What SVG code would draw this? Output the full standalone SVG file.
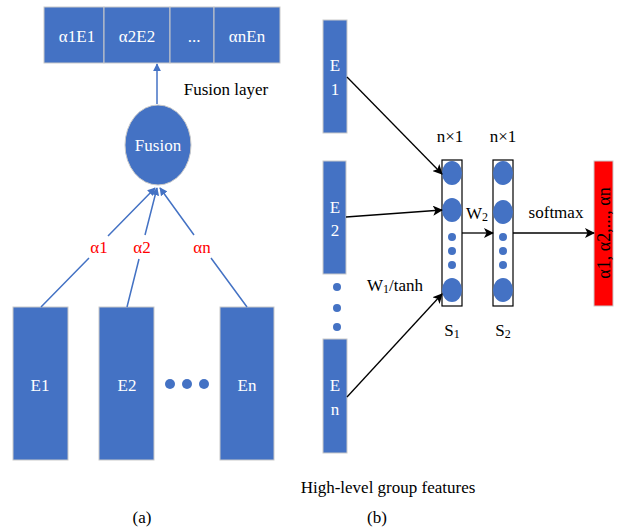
<svg xmlns="http://www.w3.org/2000/svg" width="626" height="532" viewBox="0 0 626 532">
<style>
text{font-family:"Liberation Serif","Times New Roman","DejaVu Serif",serif;font-size:17px;text-anchor:middle;dominant-baseline:central}
.blk{fill:#4472C4;stroke:#c9c9c9;stroke-width:1}
.wt{fill:#ffffff}
.bt{fill:#000000}
.rt{fill:#ff0000}
.bl{stroke:#4472C4;stroke-width:1.5;fill:none}
.kl{stroke:#000;stroke-width:1.3;fill:none}
.dot{fill:#4472C4}
</style>
<defs>
<marker id="ab" viewBox="0 0 10 10" refX="9" refY="5" markerWidth="8" markerHeight="8" markerUnits="userSpaceOnUse" orient="auto"><path d="M0,0 L10,5 L0,10 z" fill="#4472C4"/></marker>
<marker id="ak" viewBox="0 0 10 10" refX="9" refY="5" markerWidth="10" markerHeight="10" markerUnits="userSpaceOnUse" orient="auto"><path d="M0,0 L10,5 L0,10 L2.5,5 z" fill="#000"/></marker>
</defs>
<rect width="626" height="532" fill="#fff"/>

<g id="fusion-layer">
<rect class="blk" x="44" y="7" width="60" height="56"/>
<rect class="blk" x="104" y="7" width="66" height="56"/>
<rect class="blk" x="170" y="7" width="44" height="56"/>
<rect class="blk" x="214" y="7" width="66" height="56"/>
<text class="wt" x="77" y="36">α1E1</text>
<text class="wt" x="137" y="36">α2E2</text>
<text class="wt" x="194" y="36">...</text>
<text class="wt" x="247" y="36">αnEn</text>
</g>
<text class="bt" x="226" y="89">Fusion layer</text>
<g id="fusion">
<ellipse cx="158" cy="145" rx="33" ry="40" fill="#4472C4" stroke="#c9c9c9" stroke-width="1"/>
<text class="wt" x="158" y="145">Fusion</text>
</g>
<g id="a-E1"><rect class="blk" x="13" y="307" width="55" height="153"/><text class="wt" x="40" y="385">E1</text></g>
<g id="a-E2"><rect class="blk" x="99" y="307" width="55" height="153"/><text class="wt" x="127" y="385">E2</text></g>
<g id="a-En"><rect class="blk" x="220" y="307" width="54" height="153"/><text class="wt" x="247" y="385">En</text></g>
<circle class="dot" cx="170" cy="384" r="5"/>
<circle class="dot" cx="187" cy="384" r="5"/>
<circle class="dot" cx="204" cy="384" r="5"/>
<text class="bt" x="142" y="517">(a)</text>

<g id="connectors-a">
<line class="bl" x1="157" y1="104" x2="157" y2="64" marker-end="url(#ab)"/>
<path class="bl" d="M41,307 L89,258 M108,236 L155,188" marker-end="url(#ab)"/>
<path class="bl" d="M127,307 L139,259 M145,235 L157,188" marker-end="url(#ab)"/>
<path class="bl" d="M247,307 L211,258 M194,235 L160,188" marker-end="url(#ab)"/>
</g>
<text class="rt" x="99" y="247">α1</text>
<text class="rt" x="142" y="247">α2</text>
<text class="rt" x="202" y="247">αn</text>

<g id="b-E1"><rect class="blk" x="323" y="20" width="24" height="113"/><text class="wt" x="335" y="65">E</text><text class="wt" x="335" y="89">1</text></g>
<g id="b-E2"><rect class="blk" x="323" y="161" width="23" height="113"/><text class="wt" x="335" y="207">E</text><text class="wt" x="335" y="230">2</text></g>
<circle class="dot" cx="337" cy="287" r="4"/>
<circle class="dot" cx="337" cy="308" r="4"/>
<circle class="dot" cx="337" cy="327" r="4"/>
<g id="b-En"><rect class="blk" x="323" y="339" width="24" height="114"/><text class="wt" x="335" y="385">E</text><text class="wt" x="335" y="409">n</text></g>

<g id="S1">
<rect x="442" y="160" width="20" height="146" fill="#fff" stroke="#000" stroke-width="1.2"/>
<ellipse class="dot" cx="452" cy="173" rx="10" ry="12"/>
<ellipse class="dot" cx="452" cy="210" rx="10" ry="12"/>
<circle class="dot" cx="452" cy="237" r="4"/>
<circle class="dot" cx="452" cy="251" r="4"/>
<circle class="dot" cx="452" cy="265" r="4"/>
<ellipse class="dot" cx="452" cy="290" rx="10" ry="12"/>
</g>
<g id="S2">
<rect x="493" y="160" width="20" height="146" fill="#fff" stroke="#000" stroke-width="1.2"/>
<ellipse class="dot" cx="503" cy="173" rx="10" ry="12"/>
<ellipse class="dot" cx="503" cy="212" rx="10" ry="12"/>
<circle class="dot" cx="503" cy="237" r="4"/>
<circle class="dot" cx="503" cy="251" r="4"/>
<circle class="dot" cx="503" cy="265" r="4"/>
<ellipse class="dot" cx="503" cy="290" rx="10" ry="12"/>
</g>
<g id="output">
<rect x="594" y="161" width="19" height="145" fill="#ff0000" stroke="#c9c9c9" stroke-width="1"/>
<text class="bt" transform="translate(604,233) rotate(-90)" style="font-size:18px">α1, α2,..., αn</text>
</g>

<g id="connectors-b">
<line class="kl" x1="347" y1="77" x2="442" y2="174" marker-end="url(#ak)"/>
<line class="kl" x1="346" y1="217" x2="442" y2="210" marker-end="url(#ak)"/>
<line class="kl" x1="347" y1="397" x2="442" y2="294" marker-end="url(#ak)"/>
<line class="kl" x1="462" y1="233" x2="493" y2="233" marker-end="url(#ak)"/>
<line class="kl" x1="513" y1="233" x2="594" y2="233" marker-end="url(#ak)"/>
</g>

<text class="bt" x="450" y="136">n×1</text>
<text class="bt" x="503" y="136">n×1</text>
<text class="bt" x="477" y="213">W<tspan style="font-size:12px" dy="4">2</tspan></text>
<text class="bt" x="556" y="212">softmax</text>
<text class="bt" x="395" y="285">W<tspan style="font-size:12px" dy="4">1</tspan><tspan dy="-4">/tanh</tspan></text>
<text class="bt" x="452" y="330">S<tspan style="font-size:12px" dy="4">1</tspan></text>
<text class="bt" x="503" y="330">S<tspan style="font-size:12px" dy="4">2</tspan></text>
<text class="bt" x="388" y="487">High-level group features</text>
<text class="bt" x="377" y="517">(b)</text>
</svg>
